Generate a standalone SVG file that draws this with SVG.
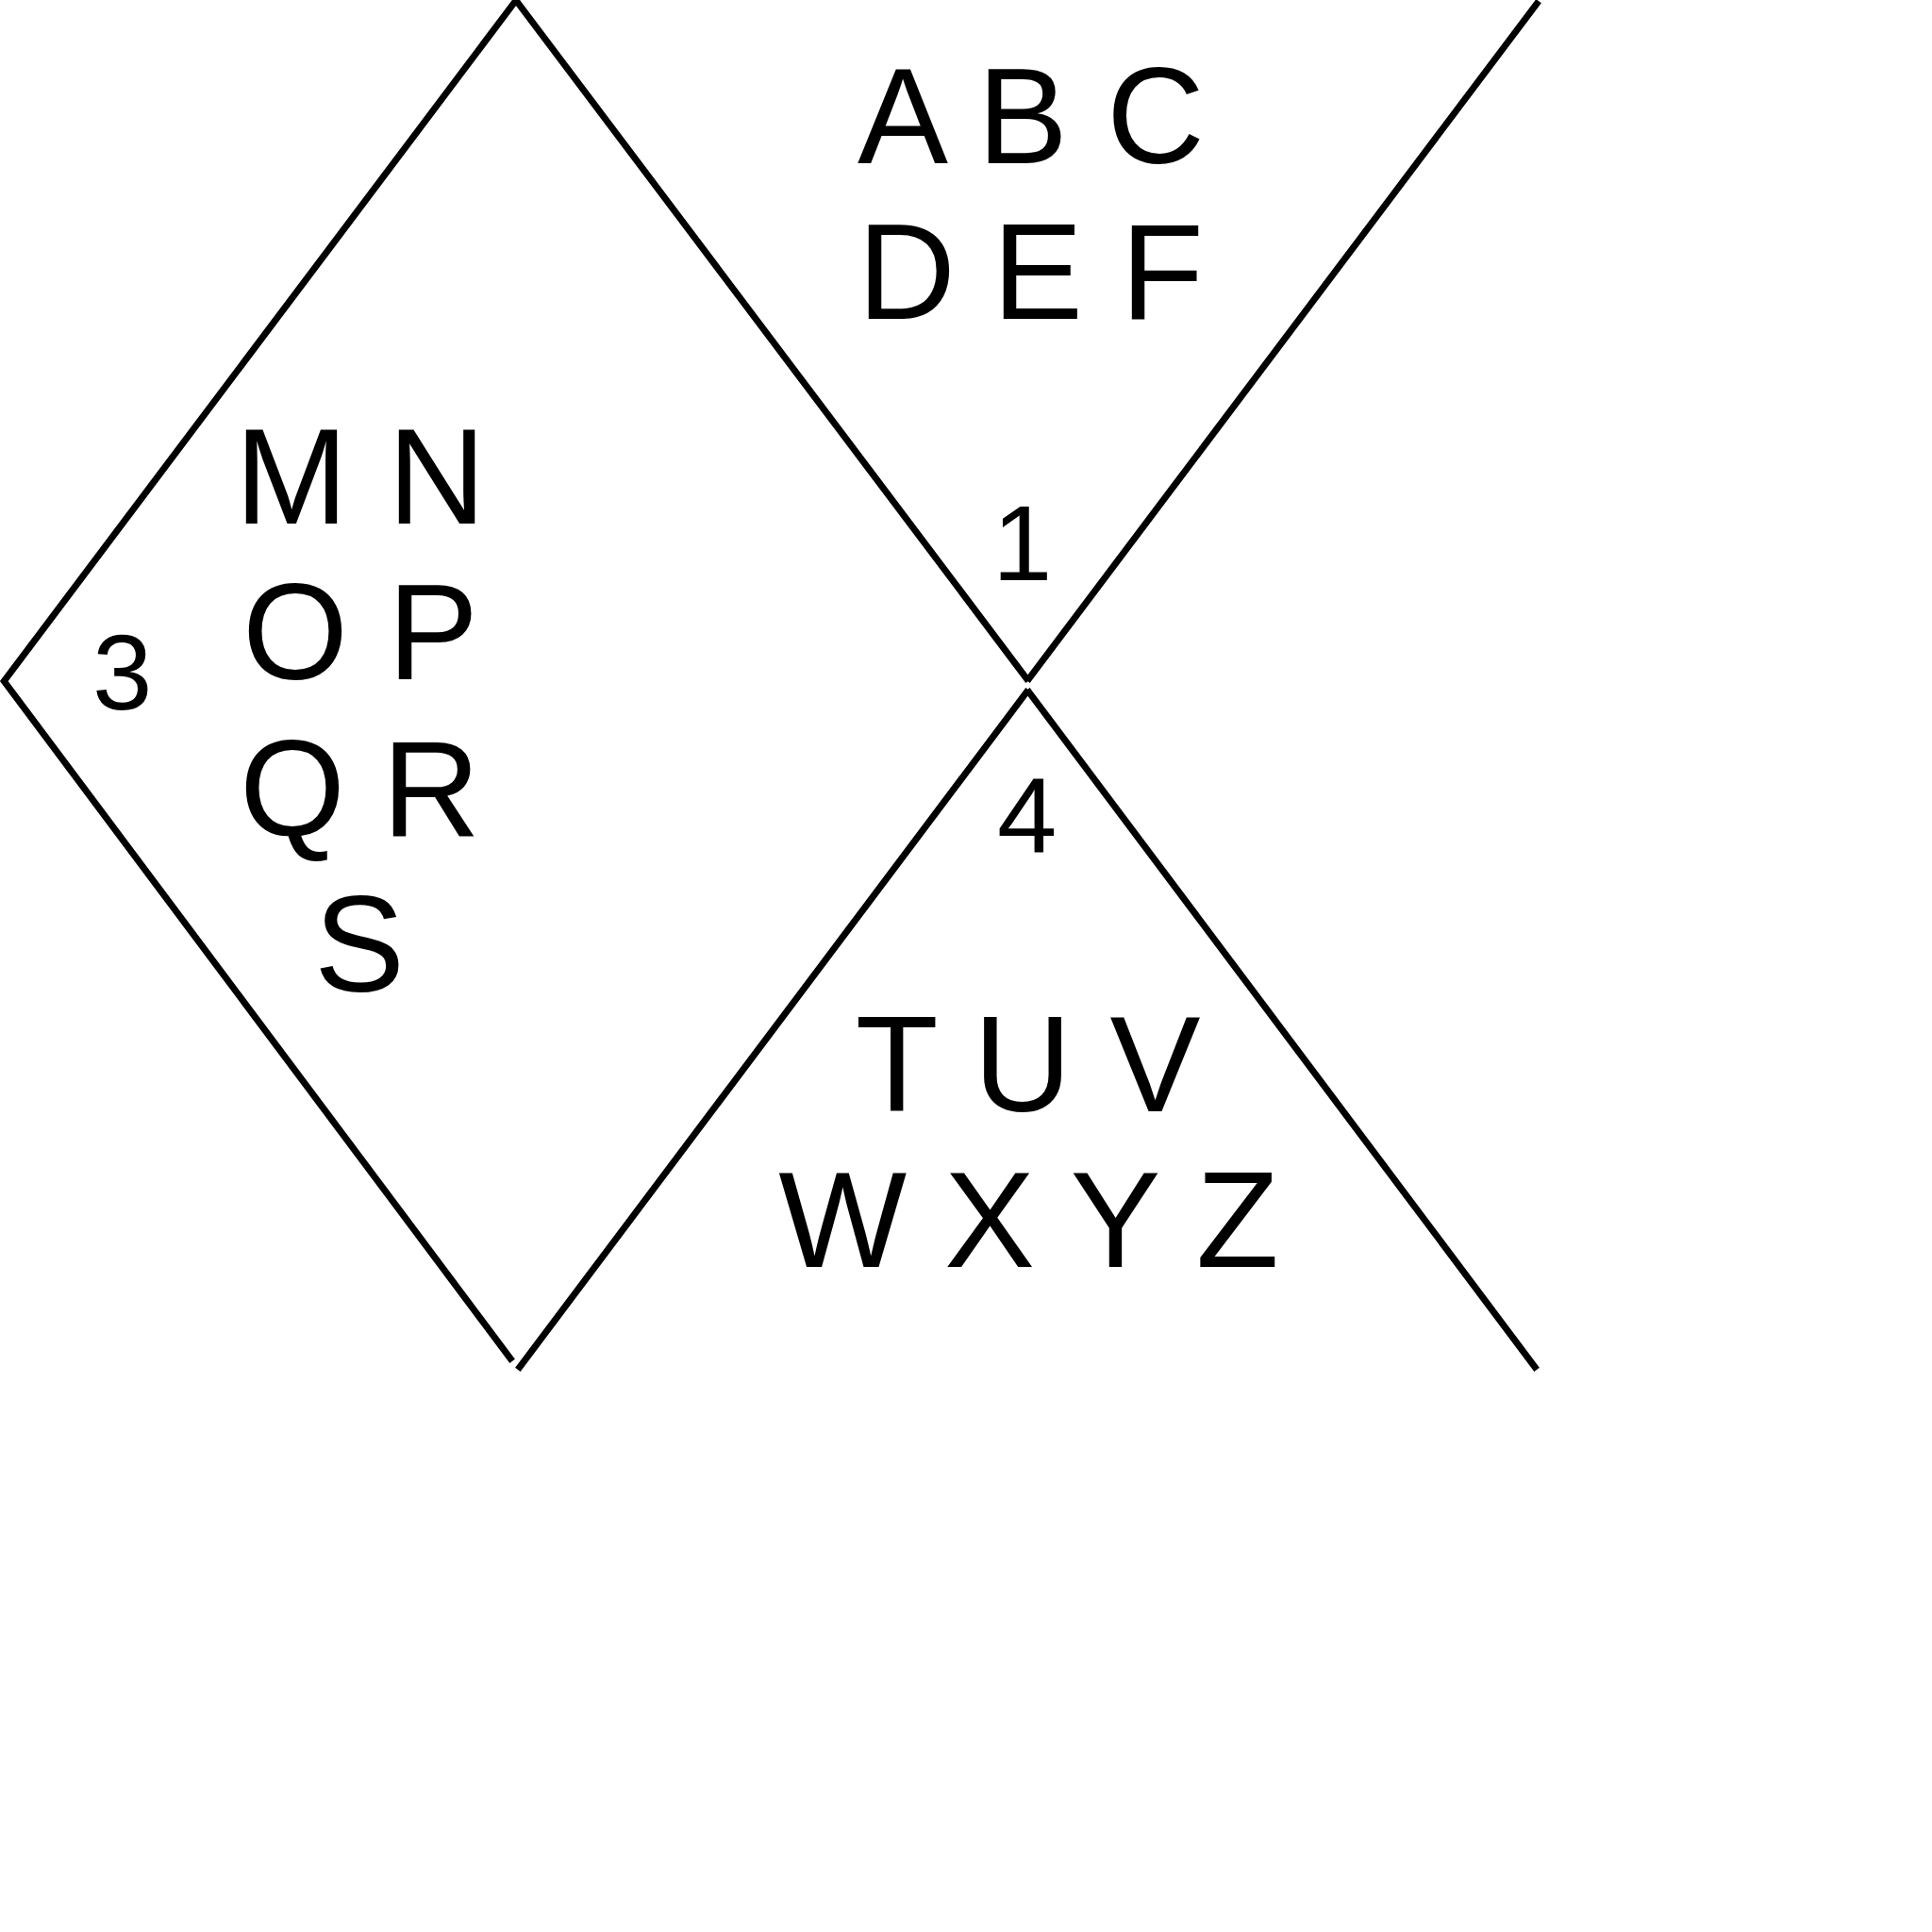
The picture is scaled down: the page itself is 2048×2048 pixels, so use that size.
<svg xmlns="http://www.w3.org/2000/svg" width="2048" height="2048" viewBox="0 0 2048 2048">
<style>
.edge{stroke:#000;stroke-width:7;fill:none;stroke-linecap:square}
.big{font-family:"Liberation Sans",Arial,sans-serif;font-size:144px;fill:#000}
.num{font-family:"Liberation Sans",Arial,sans-serif;font-size:114px;fill:#000}
</style>
<rect width="2048" height="2048" fill="#fff"/>
<g id="connectors">
<line class="edge" x1="545" y1="3" x2="5" y2="721"/>
<line class="edge" x1="5" y1="723" x2="541" y2="1440"/>
<line class="edge" x1="549" y1="3" x2="1088" y2="719"/>
<line class="edge" x1="1091" y1="719" x2="1629" y2="4"/>
<line class="edge" x1="1088" y1="734" x2="551" y2="1449"/>
<line class="edge" x1="1091" y1="734" x2="1627" y2="1449"/>
</g>
<g id="node-top">
<text class="big" x="909 1005 1036 1141 1173" y="173">A B C</text>
<text class="big" x="909 1010 1052 1150 1188" y="338">D E F</text>
<text id="label-1" class="num" x="1052" y="615">1</text>
</g>
<g id="node-left">
<text class="big" x="249 360 411" y="554.5">M N</text>
<text class="big" x="257 360 411" y="720">O P</text>
<text class="big" x="254 360 405" y="886">Q R</text>
<text class="big" x="333" y="1051">S</text>
<text id="label-3" class="num" x="98" y="752">3</text>
</g>
<g id="node-bottom">
<text id="label-4" class="num" x="1057" y="904">4</text>
<text class="big" x="906.7 990 1032.1 1110 1176.4" y="1177.5">T U V</text>
<text class="big" x="825.2 960 1001.1 1090 1134.6 1230 1267.8" y="1343">W X Y Z</text>
</g>
</svg>
